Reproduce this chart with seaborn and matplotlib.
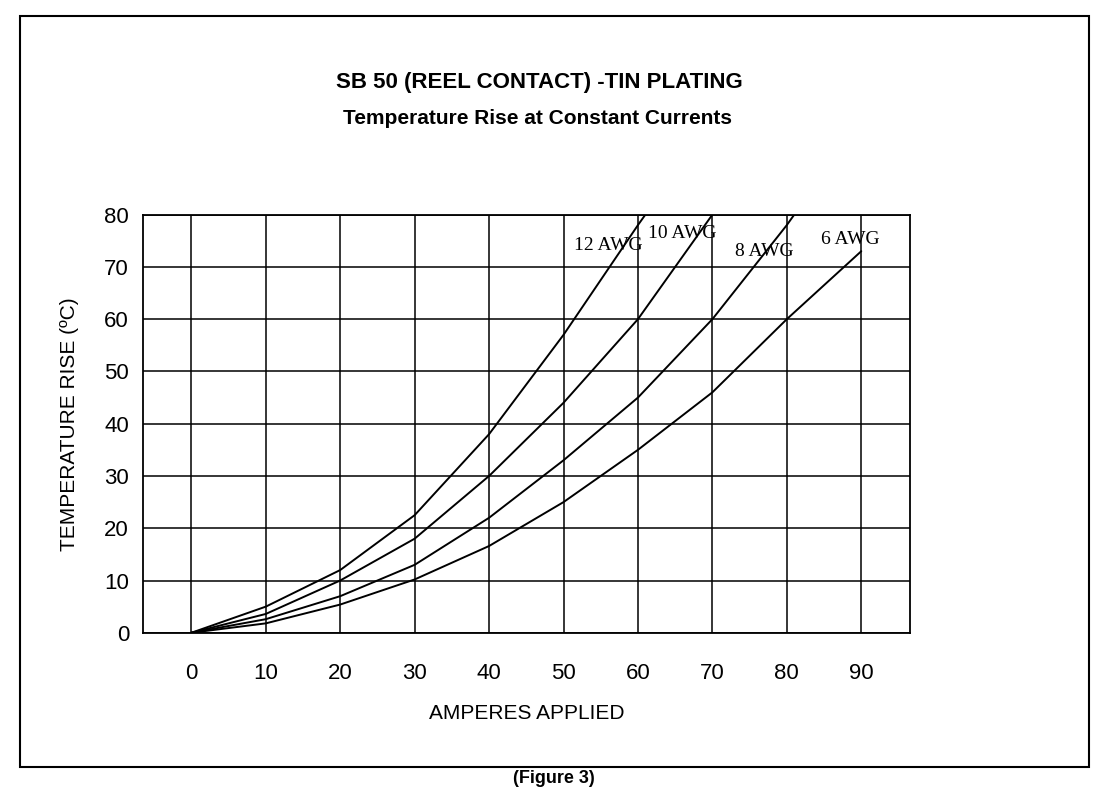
import pandas as pd
import matplotlib.pyplot as plt
import seaborn as sns
from matplotlib.patches import Rectangle

# values (amps -> temperature rise in C)
amps_12 = [0, 10, 20, 30, 40, 50, 60, 61]
rise_12 = [0, 5.0, 12.0, 22.5, 38.0, 57.0, 78.0, 80.0]

amps_10 = [0, 10, 20, 30, 40, 50, 60, 70]
rise_10 = [0, 3.6, 10.0, 18.0, 30.0, 44.0, 60.0, 80.0]

amps_8 = [0, 10, 20, 30, 40, 50, 60, 70, 80, 81]
rise_8 = [0, 2.6, 7.0, 13.0, 22.0, 33.0, 45.0, 60.0, 78.0, 80.0]

amps_6 = [0, 10, 20, 30, 40, 50, 60, 70, 80, 90]
rise_6 = [0, 1.8, 5.4, 10.2, 16.6, 25.0, 35.0, 46.0, 60.0, 73.0]

gauges = ['12 AWG', '10 AWG', '8 AWG', '6 AWG']
label_x = [56, 66, 77, 88.5]
label_y = [74, 76.3, 73, 75.2]

x_ticks = [0, 10, 20, 30, 40, 50, 60, 70, 80, 90]
y_ticks = [0, 10, 20, 30, 40, 50, 60, 70, 80]

frames = []
for g, a, r in zip(gauges, [amps_12, amps_10, amps_8, amps_6],
                   [rise_12, rise_10, rise_8, rise_6]):
    frames.append(pd.DataFrame({'amps': a, 'rise': r, 'gauge': g}))
df = pd.concat(frames, ignore_index=True)

sns.set_style('white')
plt.rcParams['font.family'] = ['Liberation Sans', 'DejaVu Sans']
plt.rcParams['text.color'] = 'black'
plt.rcParams['axes.labelcolor'] = 'black'
plt.rcParams['xtick.color'] = 'black'
plt.rcParams['ytick.color'] = 'black'

fig = plt.figure(figsize=(11.08, 7.89), dpi=100)
ax = fig.add_axes([0.129, 0.198, 0.692, 0.530])

sns.lineplot(data=df, x='amps', y='rise', hue='gauge', units='gauge',
             estimator=None, palette=['black'] * 4, linewidth=1.4,
             legend=False, ax=ax, sort=False)

ax.set_xlim(-6.5, 96.5)
ax.set_ylim(0, 80)
ax.set_xticks(x_ticks)
ax.set_yticks(y_ticks)
ax.grid(True, color='black', linewidth=1.1)
ax.tick_params(axis='x', length=0, pad=22, labelsize=16)
ax.tick_params(axis='y', length=0, pad=10, labelsize=16)
for s in ax.spines.values():
    s.set_color('black')
    s.set_linewidth(1.3)

ax.set_xlabel('AMPERES APPLIED', fontsize=15, labelpad=14)
ax.set_ylabel('TEMPERATURE RISE (ºC)', fontsize=15, labelpad=18)

for g, lx, ly in zip(gauges, label_x, label_y):
    ax.text(lx, ly, g, ha='center', va='center', fontsize=14,
            family='Liberation Serif')

fig.text(0.487, 0.895, 'SB 50 (REEL CONTACT) -TIN PLATING', ha='center',
         va='center', fontsize=16, fontweight='bold')
fig.text(0.485, 0.850, 'Temperature Rise at Constant Currents', ha='center',
         va='center', fontsize=15, fontweight='bold')
fig.text(0.5, 0.003, '(Figure 3)', ha='center', va='bottom', fontsize=13,
         fontweight='bold')

# outer frame of the figure box
fig.patches.append(Rectangle((0.018, 0.028), 0.965, 0.952, fill=False,
                             edgecolor='black', linewidth=1.5,
                             transform=fig.transFigure))

fig.savefig('out.png', dpi=100)
